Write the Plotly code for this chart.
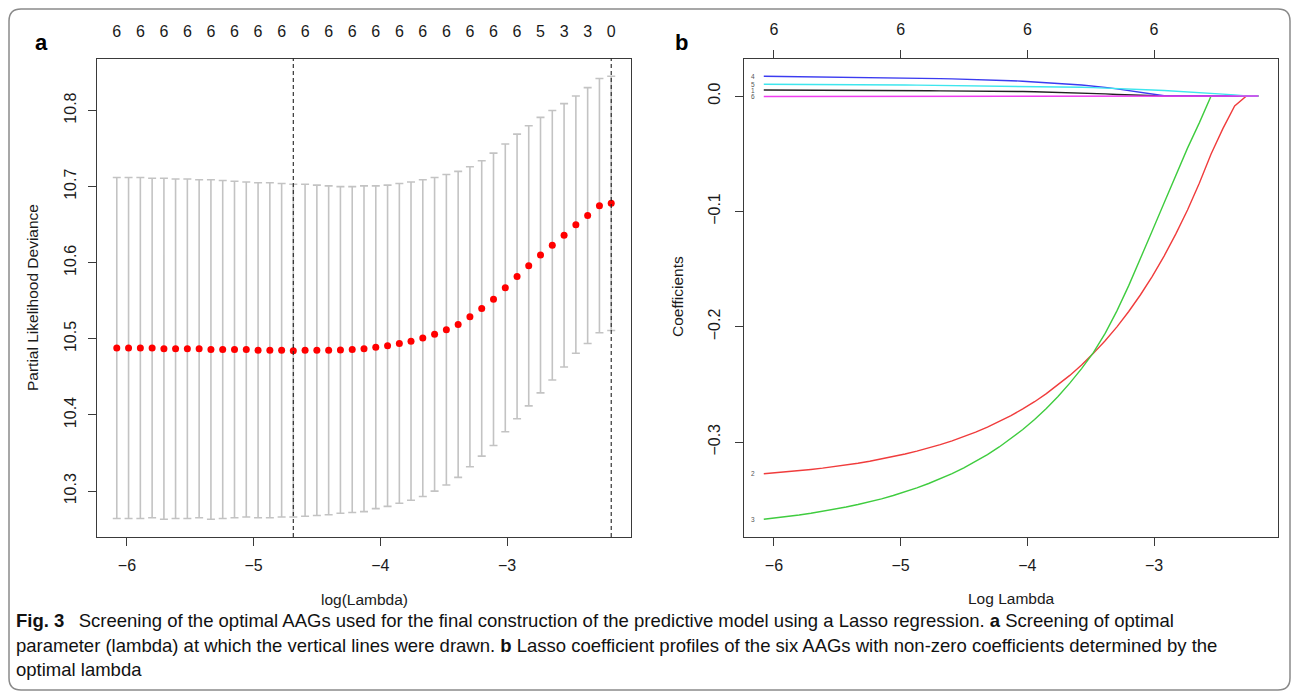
import plotly.graph_objects as go

W, H = 1295, 697

# ---------------- data ----------------
log_lambda = [-6.080, -5.987, -5.894, -5.801, -5.708, -5.616, -5.523, -5.430, -5.337, -5.244,
              -5.151, -5.058, -4.965, -4.872, -4.779, -4.687, -4.594, -4.501, -4.408, -4.315,
              -4.222, -4.129, -4.036, -3.943, -3.850, -3.758, -3.665, -3.572, -3.479, -3.386,
              -3.293, -3.200, -3.107, -3.014, -2.921, -2.829, -2.736, -2.643, -2.550, -2.457,
              -2.364, -2.271, -2.178]

cv_mean = [10.488, 10.488, 10.488, 10.488, 10.487, 10.487, 10.487, 10.487, 10.486, 10.486,
           10.486, 10.486, 10.485, 10.485, 10.485, 10.4845, 10.485, 10.485, 10.485, 10.4855,
           10.486, 10.487, 10.489, 10.491, 10.494, 10.497, 10.501, 10.506, 10.512, 10.519,
           10.529, 10.540, 10.552, 10.567, 10.582, 10.596, 10.610, 10.623, 10.636, 10.650,
           10.662, 10.675, 10.678]

cv_upper = [10.712, 10.712, 10.712, 10.711, 10.711, 10.710, 10.710, 10.709, 10.709, 10.708,
            10.707, 10.706, 10.705, 10.705, 10.704, 10.703, 10.703, 10.702, 10.701, 10.700,
            10.700, 10.701, 10.701, 10.702, 10.704, 10.706, 10.709, 10.712, 10.716, 10.720,
            10.726, 10.734, 10.744, 10.756, 10.769, 10.780, 10.791, 10.800, 10.809, 10.819,
            10.830, 10.842, 10.845]

# number of non-zero coefficients shown on top of panel a (every other lambda)
nz_labels = ["6", "6", "6", "6", "6", "6", "6", "6", "6", "6", "6",
             "6", "6", "6", "6", "6", "6", "6", "5", "3", "3", "0"]

# coefficient paths (panel b), one value per lambda
coef_1 = [0.0052, 0.0052, 0.0051, 0.0051, 0.0051, 0.0050, 0.0050, 0.0050, 0.0049, 0.0049,
          0.0048, 0.0048, 0.0047, 0.0047, 0.0046, 0.0045, 0.0045, 0.0044, 0.0043, 0.0042,
          0.0041, 0.0040, 0.0039, 0.0037, 0.0035, 0.0033, 0.0030, 0.0027, 0.0023, 0.0019,
          0.0014, 0.0009, 0.0004, 0.0, 0.0, 0.0, 0.0, 0.0, 0.0, 0.0,
          0.0, 0.0, 0.0]
coef_2 = [-0.3274, -0.3266, -0.3257, -0.3247, -0.3236, -0.3225, -0.3212, -0.3197, -0.3182, -0.3165,
          -0.3146, -0.3125, -0.3102, -0.3077, -0.3050, -0.3021, -0.2988, -0.2952, -0.2912, -0.2869,
          -0.2821, -0.2769, -0.2711, -0.2649, -0.2579, -0.2504, -0.2421, -0.2330, -0.2230, -0.2120,
          -0.2000, -0.1867, -0.1722, -0.1562, -0.1387, -0.1197, -0.0987, -0.0756, -0.0502, -0.0282,
          -0.0085, 0.0, 0.0]
coef_3 = [-0.3668, -0.3657, -0.3644, -0.3631, -0.3616, -0.3600, -0.3582, -0.3562, -0.3540, -0.3517,
          -0.3491, -0.3462, -0.3431, -0.3396, -0.3358, -0.3317, -0.3272, -0.3222, -0.3167, -0.3107,
          -0.3041, -0.2969, -0.2890, -0.2803, -0.2707, -0.2603, -0.2488, -0.2362, -0.2224, -0.2057,
          -0.1862, -0.1643, -0.1410, -0.1168, -0.0926, -0.0684, -0.0451, -0.0232, 0.0, 0.0,
          0.0, 0.0, 0.0]
coef_4 = [0.0172, 0.0171, 0.0170, 0.0169, 0.0168, 0.0167, 0.0166, 0.0165, 0.0163, 0.0162,
          0.0161, 0.0159, 0.0157, 0.0155, 0.0153, 0.0151, 0.0149, 0.0147, 0.0144, 0.0140,
          0.0137, 0.0133, 0.0129, 0.0124, 0.0117, 0.0110, 0.0103, 0.0096, 0.0088, 0.0075,
          0.0062, 0.0048, 0.0034, 0.0019, 0.0003, 0.0, 0.0, 0.0, 0.0, 0.0,
          0.0, 0.0, 0.0]
coef_5 = [0.0102, 0.0102, 0.0101, 0.0101, 0.0100, 0.0100, 0.0099, 0.0099, 0.0098, 0.0098,
          0.0097, 0.0097, 0.0096, 0.0095, 0.0094, 0.0093, 0.0092, 0.0091, 0.0090, 0.0089,
          0.0088, 0.0087, 0.0086, 0.0084, 0.0082, 0.0080, 0.0078, 0.0076, 0.0073, 0.0070,
          0.0066, 0.0062, 0.0058, 0.0053, 0.0048, 0.0043, 0.0037, 0.0031, 0.0025, 0.0017,
          0.0009, 0.0, 0.0]
coef_6 = [-0.0004, -0.0004, -0.0004, -0.0004, -0.0004, -0.0004, -0.0004, -0.0004, -0.0004, -0.0004,
          -0.0004, -0.0004, -0.0004, -0.0004, -0.0004, -0.0004, -0.0004, -0.0004, -0.0004, -0.0004,
          -0.0004, -0.0004, -0.0004, -0.0004, -0.0004, -0.0004, -0.0004, -0.0004, -0.0004, -0.0004,
          -0.0003, -0.0003, -0.0003, -0.0003, -0.0003, -0.0003, -0.0002, -0.0002, -0.0002, -0.0002,
          -0.0001, 0.0, 0.0]

coef_names = ["1", "2", "3", "4", "5", "6"]
coef_colors = ["#222222", "#f03c3c", "#3fcc3f", "#3b3bf0", "#3ee6ee", "#f03cf0"]

x_ticks = [-6, -5, -4, -3]
x_ticktext = ["\u22126", "\u22125", "\u22124", "\u22123"]
top_b_labels = ["6", "6", "6", "6"]
ya_ticks = [10.3, 10.4, 10.5, 10.6, 10.7, 10.8]
yb_ticks = [-0.3, -0.2, -0.1, 0.0]
yb_ticktext = ["\u22120.3", "\u22120.2", "\u22120.1", "0.0"]

caption_lines = [
    "<b>Fig. 3</b>\u2002 Screening of the optimal AAGs used for the final construction of the predictive model using a Lasso regression. <b>a</b> Screening of optimal",
    "parameter (lambda) at which the vertical lines were drawn. <b>b</b> Lasso coefficient profiles of the six AAGs with non-zero coefficients determined by the",
    "optimal lambda",
]

# ---------------- derived ----------------
cv_lower = [2 * m - u for m, u in zip(cv_mean, cv_upper)]
err_plus = [u - m for m, u in zip(cv_mean, cv_upper)]
err_minus = [m - l for m, l in zip(cv_mean, cv_lower)]
i_min = min(range(len(cv_mean)), key=lambda i: cv_mean[i])
thr = cv_upper[i_min]
i_1se = max(i for i in range(len(cv_mean)) if cv_mean[i] <= thr)


def rrange(vals):
    lo, hi = min(vals), max(vals)
    pad = 0.04 * (hi - lo)
    return [lo - pad, hi + pad]


x_range = rrange(log_lambda)
ya_range = rrange(cv_lower + cv_upper)
coefs = [coef_1, coef_2, coef_3, coef_4, coef_5, coef_6]
yb_range = rrange([v for c in coefs for v in c])


def px(x):
    return x / W


def py(y):
    return 1 - y / H


FONT = "Liberation Sans, Arial, sans-serif"
TXT = "#1a1a1a"
BOX = "#3a3a3a"
TICK_SIZE = 16
TITLE_SIZE = 15.5

fig = go.Figure()

# panel a: error bars + points
fig.add_trace(go.Scatter(
    x=log_lambda, y=cv_mean, mode="markers",
    marker=dict(color="#ff0000", size=7, line=dict(width=0)),
    error_y=dict(type="data", symmetric=False, array=err_plus, arrayminus=err_minus,
                 color="#c3c3c3", thickness=1.6, width=4),
    xaxis="x", yaxis="y", showlegend=False, hoverinfo="skip"))
# invisible trace to activate the top axis of panel a
fig.add_trace(go.Scatter(x=log_lambda, y=cv_mean, mode="markers", marker=dict(opacity=0),
                         xaxis="x3", yaxis="y", showlegend=False, hoverinfo="skip"))

# panel b: coefficient paths
for name, c, col in zip(coef_names, coefs, coef_colors):
    fig.add_trace(go.Scatter(x=log_lambda, y=c, mode="lines", line=dict(color=col, width=1.4),
                             xaxis="x2", yaxis="y2", showlegend=False, hoverinfo="skip"))
fig.add_trace(go.Scatter(x=log_lambda, y=coef_1, mode="markers", marker=dict(opacity=0),
                         xaxis="x4", yaxis="y2", showlegend=False, hoverinfo="skip"))

ya_dom = [py(537), py(58.5)]
common_x = dict(range=x_range, showgrid=False, zeroline=False, showline=True, mirror=True,
                linecolor=BOX, linewidth=1.4, ticks="outside", ticklen=8, tickwidth=1.2,
                tickcolor=BOX, tickvals=x_ticks, ticktext=x_ticktext,
                tickfont=dict(family=FONT, size=TICK_SIZE, color=TXT), ticklabelstandoff=6,
                automargin=False, fixedrange=True)
common_y = dict(showgrid=False, zeroline=False, showline=True, mirror=True, linecolor=BOX,
                linewidth=1.4, ticks="outside", ticklen=8, tickwidth=1.2, tickcolor=BOX,
                tickangle=-90, tickfont=dict(family=FONT, size=TICK_SIZE, color=TXT),
                automargin=False, fixedrange=True)

fig.update_layout(
    width=W, height=H, margin=dict(l=0, r=0, t=0, b=0),
    paper_bgcolor="white", plot_bgcolor="white",
    xaxis=dict(domain=[px(97), px(631)], anchor="y", **common_x),
    yaxis=dict(domain=ya_dom, anchor="x", range=ya_range, tickvals=ya_ticks,
               ticklabelstandoff=5, **common_y),
    xaxis2=dict(domain=[px(744), px(1278)], anchor="y2", **common_x),
    yaxis2=dict(domain=ya_dom, anchor="x2", range=yb_range, tickvals=yb_ticks,
                ticktext=yb_ticktext, ticklabelstandoff=8, **common_y),
    xaxis3=dict(overlaying="x", side="top", anchor="y", range=x_range, showgrid=False,
                zeroline=False, showline=False, ticks="", tickvals=log_lambda[::2],
                ticktext=nz_labels, tickfont=dict(family=FONT, size=TICK_SIZE, color=TXT),
                ticklabelstandoff=17, automargin=False, fixedrange=True),
    xaxis4=dict(overlaying="x2", side="top", anchor="y2", range=x_range, showgrid=False,
                zeroline=False, showline=False, ticks="outside", ticklen=8, tickwidth=1.2,
                tickcolor=BOX, tickvals=x_ticks, ticktext=top_b_labels,
                tickfont=dict(family=FONT, size=TICK_SIZE, color=TXT), ticklabelstandoff=8,
                automargin=False, fixedrange=True),
)

# vertical dashed lines at lambda.min and lambda.1se
for i in (i_min, i_1se):
    fig.add_shape(type="line", xref="x", yref="y domain", x0=log_lambda[i], x1=log_lambda[i],
                  y0=0, y1=1, line=dict(color="#222222", width=1.1, dash="4px,3px"))

# outer rounded frame
L, T, R, B, r = 9, 9, 1290, 690, 12
path = (f"M {px(L + r)},{py(T)} L {px(R - r)},{py(T)} Q {px(R)},{py(T)} {px(R)},{py(T + r)} "
        f"L {px(R)},{py(B - r)} Q {px(R)},{py(B)} {px(R - r)},{py(B)} "
        f"L {px(L + r)},{py(B)} Q {px(L)},{py(B)} {px(L)},{py(B - r)} "
        f"L {px(L)},{py(T + r)} Q {px(L)},{py(T)} {px(L + r)},{py(T)} Z")
fig.add_shape(type="path", xref="paper", yref="paper", path=path,
              line=dict(color="#8a8a8a", width=1.5))

ann = []

# small curve labels at the left end of each coefficient path
for name, c in zip(coef_names, coefs):
    ann.append(dict(text=name, x=log_lambda[0], y=c[0], xref="x2", yref="y2", showarrow=False,
                    xanchor="right", yanchor="middle", xshift=-7,
                    font=dict(family=FONT, size=6.5, color="#555555")))


def add_text(text, x, y, size, xanchor="center", angle=0, bold=False, family=FONT, color=TXT):
    ann.append(dict(text=f"<b>{text}</b>" if bold else text, x=px(x), y=py(y), xref="paper",
                    yref="paper", showarrow=False, xanchor=xanchor, yanchor="middle",
                    textangle=angle, font=dict(family=family, size=size, color=color)))


add_text("a", 41, 42, 22, bold=True, color="#000")
add_text("b", 681, 42, 22, bold=True, color="#000")
add_text("log(Lambda)", 364, 599, TITLE_SIZE)
add_text("Log Lambda", 1011, 598, TITLE_SIZE)
add_text("Partial Likelihood Deviance", 33, 298, TITLE_SIZE, angle=-90)
add_text("Coefficients", 678, 297, TITLE_SIZE, angle=-90)

CAP_FONT = "Liberation Sans, Arial, sans-serif"
for line, yc in zip(caption_lines, [620, 645, 669]):
    add_text(line, 14, yc, 18.5, xanchor="left", family=CAP_FONT, color="#111")

fig.update_layout(annotations=ann)
fig.write_html("out.html")
